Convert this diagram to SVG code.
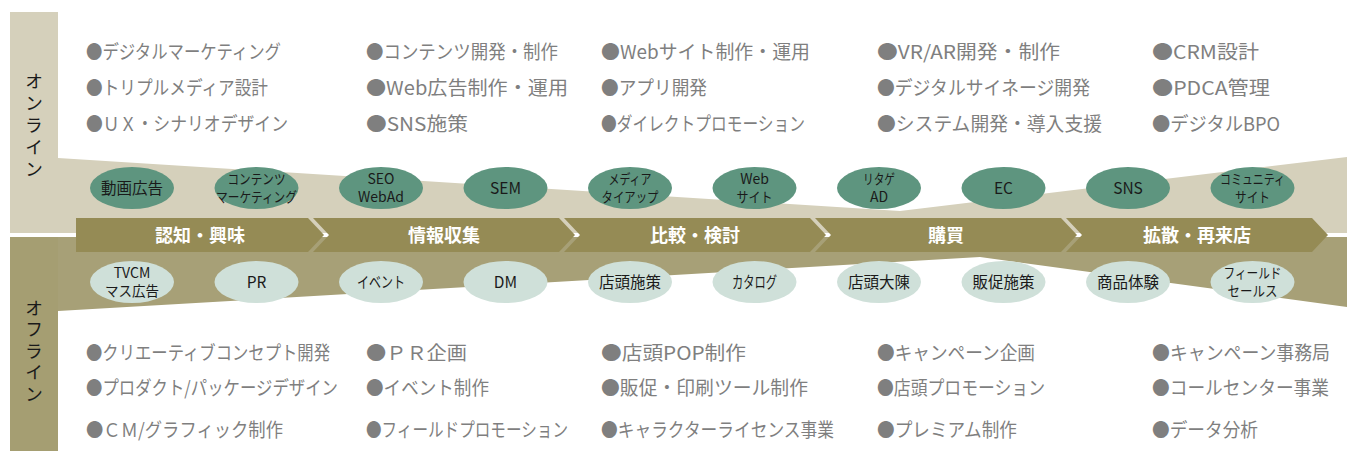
<svg xmlns="http://www.w3.org/2000/svg" width="1347" height="451" viewBox="0 0 1347 451">
<style>
.bl{font-family:"Noto Sans CJK JP","Noto Sans",sans-serif;font-size:19px;fill:#7f7f7f}
.vt{font-family:"Noto Sans CJK JP",sans-serif;font-size:18px;fill:#1a1a1a;writing-mode:vertical-rl}
.st{font-family:"Noto Sans CJK JP",sans-serif;font-size:18px;font-weight:bold;fill:#ffffff;text-anchor:middle}
.et{font-family:"Noto Sans CJK JP","Noto Sans",sans-serif;font-size:15.5px;fill:#1a1a1a;text-anchor:middle}
.e2{font-family:"Noto Sans CJK JP","Noto Sans",sans-serif;font-size:14px;fill:#1a1a1a;text-anchor:middle}
.on{fill:#5e957f}
.off{fill:#cfe0d9}
.seg{fill:#958b55}
</style>
<rect width="1347" height="451" fill="#ffffff"/>
<g id="background">
<rect x="10" y="12" width="48" height="221" fill="#d5d0bb"/>
<rect x="10" y="237" width="48" height="214" fill="#a59e72"/>
<polygon points="58,158 900,211 1347,157 1347,233 58,233" fill="#d5d0bb"/>
<polygon points="58,237 1347,237 1347,307 980,257 58,311" fill="#a7a077"/>
<rect x="0" y="233" width="1347" height="4" fill="#ffffff"/>
</g>
<g id="label-online"><text class="vt" x="34" y="72" letter-spacing="4">オンライン</text></g>
<g id="label-offline"><text class="vt" x="34" y="299" letter-spacing="3.5">オフライン</text></g>
<g id="connectors"></g>
<g id="stage1"><polygon class="seg" points="76,218 308,218 324,235 308,252 76,252"/><text class="st" x="200" y="241.5">認知・興味</text></g>
<g id="stage2"><polygon class="seg" points="313,218 559,218 575,235 559,252 313,252 329,235"/><text class="st" x="444" y="241.5">情報収集</text></g>
<g id="stage3"><polygon class="seg" points="564,218 810,218 826,235 810,252 564,252 580,235"/><text class="st" x="695" y="241.5">比較・検討</text></g>
<g id="stage4"><polygon class="seg" points="815,218 1061,218 1077,235 1061,252 815,252 831,235"/><text class="st" x="946" y="241.5">購買</text></g>
<g id="stage5"><polygon class="seg" points="1066,218 1312,218 1328,235 1312,252 1066,252 1082,235"/><text class="st" x="1197" y="241.5">拡散・再来店</text></g>
<g id="on1"><ellipse class="on" cx="132" cy="188" rx="42" ry="21"/><text class="et" x="132" y="193.5">動画広告</text></g>
<g id="on2"><ellipse class="on" cx="256.5" cy="188" rx="42" ry="21"/><text class="e2" x="256.5" y="184.3" textLength="58" lengthAdjust="spacingAndGlyphs">コンテンツ</text><text class="e2" x="256.5" y="202.3" textLength="81" lengthAdjust="spacingAndGlyphs">マーケティング</text></g>
<g id="on3"><ellipse class="on" cx="381" cy="188" rx="42" ry="21"/><text class="e2" x="381" y="184.3" font-size="15">SEO</text><text class="e2" x="381" y="202.3" font-size="15">WebAd</text></g>
<g id="on4"><ellipse class="on" cx="505.5" cy="188" rx="42" ry="21"/><text class="et" x="505.5" y="193.5">SEM</text></g>
<g id="on5"><ellipse class="on" cx="630" cy="188" rx="42" ry="21"/><text class="e2" x="630" y="184.3" textLength="43" lengthAdjust="spacingAndGlyphs">メディア</text><text class="e2" x="630" y="202.3" textLength="57" lengthAdjust="spacingAndGlyphs">タイアップ</text></g>
<g id="on6"><ellipse class="on" cx="754.5" cy="188" rx="42" ry="21"/><text class="e2" x="754.5" y="184.3" font-size="15">Web</text><text class="e2" x="754.5" y="202.3" textLength="36" lengthAdjust="spacingAndGlyphs">サイト</text></g>
<g id="on7"><ellipse class="on" cx="879" cy="188" rx="42" ry="21"/><text class="e2" x="879" y="184.3" textLength="32" lengthAdjust="spacingAndGlyphs">リタゲ</text><text class="e2" x="879" y="202.3" font-size="15">AD</text></g>
<g id="on8"><ellipse class="on" cx="1003.5" cy="188" rx="42" ry="21"/><text class="et" x="1003.5" y="193.5">EC</text></g>
<g id="on9"><ellipse class="on" cx="1128" cy="188" rx="42" ry="21"/><text class="et" x="1128" y="193.5">SNS</text></g>
<g id="on10"><ellipse class="on" cx="1252.5" cy="188" rx="42" ry="21"/><text class="e2" x="1252.5" y="184.3" textLength="65" lengthAdjust="spacingAndGlyphs">コミュニティ</text><text class="e2" x="1252.5" y="202.3" textLength="35" lengthAdjust="spacingAndGlyphs">サイト</text></g>
<g id="off1"><ellipse class="off" cx="132" cy="282" rx="42" ry="21"/><text class="e2" x="132" y="278.3" font-size="15">TVCM</text><text class="e2" x="132" y="296.3" textLength="54" lengthAdjust="spacingAndGlyphs">マス広告</text></g>
<g id="off2"><ellipse class="off" cx="256.5" cy="282" rx="42" ry="21"/><text class="et" x="256.5" y="287.5">PR</text></g>
<g id="off3"><ellipse class="off" cx="381" cy="282" rx="42" ry="21"/><text class="et" x="381" y="287.5" textLength="48" lengthAdjust="spacingAndGlyphs">イベント</text></g>
<g id="off4"><ellipse class="off" cx="505.5" cy="282" rx="42" ry="21"/><text class="et" x="505.5" y="287.5">DM</text></g>
<g id="off5"><ellipse class="off" cx="630" cy="282" rx="42" ry="21"/><text class="et" x="630" y="287.5">店頭施策</text></g>
<g id="off6"><ellipse class="off" cx="754.5" cy="282" rx="42" ry="21"/><text class="et" x="754.5" y="287.5" textLength="45" lengthAdjust="spacingAndGlyphs">カタログ</text></g>
<g id="off7"><ellipse class="off" cx="879" cy="282" rx="42" ry="21"/><text class="et" x="879" y="287.5">店頭大陳</text></g>
<g id="off8"><ellipse class="off" cx="1003.5" cy="282" rx="42" ry="21"/><text class="et" x="1003.5" y="287.5">販促施策</text></g>
<g id="off9"><ellipse class="off" cx="1128" cy="282" rx="42" ry="21"/><text class="et" x="1128" y="287.5">商品体験</text></g>
<g id="off10"><ellipse class="off" cx="1252.5" cy="282" rx="42" ry="21"/><text class="e2" x="1252.5" y="278.3" textLength="58" lengthAdjust="spacingAndGlyphs">フィールド</text><text class="e2" x="1252.5" y="296.3" textLength="50" lengthAdjust="spacingAndGlyphs">セールス</text></g>
<g id="online-services">
<text class="bl" x="86" y="59" textLength="195" lengthAdjust="spacingAndGlyphs">●デジタルマーケティング</text>
<text class="bl" x="86" y="95" textLength="182" lengthAdjust="spacingAndGlyphs">●トリプルメディア設計</text>
<text class="bl" x="86" y="131" textLength="202" lengthAdjust="spacingAndGlyphs">●ＵＸ・シナリオデザイン</text>
<text class="bl" x="366" y="59" textLength="192" lengthAdjust="spacingAndGlyphs">●コンテンツ開発・制作</text>
<text class="bl" x="366" y="95" textLength="202" lengthAdjust="spacingAndGlyphs">●Web広告制作・運用</text>
<text class="bl" x="366" y="131" textLength="102" lengthAdjust="spacingAndGlyphs">●SNS施策</text>
<text class="bl" x="601" y="59" textLength="209" lengthAdjust="spacingAndGlyphs">●Webサイト制作・運用</text>
<text class="bl" x="601" y="95" textLength="106" lengthAdjust="spacingAndGlyphs">●アプリ開発</text>
<text class="bl" x="601" y="131" textLength="204" lengthAdjust="spacingAndGlyphs">●ダイレクトプロモーション</text>
<text class="bl" x="877" y="59" textLength="183" lengthAdjust="spacingAndGlyphs">●VR/AR開発・制作</text>
<text class="bl" x="877" y="95" textLength="213" lengthAdjust="spacingAndGlyphs">●デジタルサイネージ開発</text>
<text class="bl" x="877" y="131" textLength="225" lengthAdjust="spacingAndGlyphs">●システム開発・導入支援</text>
<text class="bl" x="1152" y="59" textLength="107" lengthAdjust="spacingAndGlyphs">●CRM設計</text>
<text class="bl" x="1152" y="95" textLength="118" lengthAdjust="spacingAndGlyphs">●PDCA管理</text>
<text class="bl" x="1152" y="131" textLength="128" lengthAdjust="spacingAndGlyphs">●デジタルBPO</text>
</g>
<g id="offline-services">
<text class="bl" x="86" y="360" textLength="244" lengthAdjust="spacingAndGlyphs">●クリエーティブコンセプト開発</text>
<text class="bl" x="86" y="395" textLength="252" lengthAdjust="spacingAndGlyphs">●プロダクト/パッケージデザイン</text>
<text class="bl" x="86" y="437" textLength="197" lengthAdjust="spacingAndGlyphs">●ＣＭ/グラフィック制作</text>
<text class="bl" x="366" y="360" textLength="101" lengthAdjust="spacingAndGlyphs">●ＰＲ企画</text>
<text class="bl" x="366" y="395" textLength="123" lengthAdjust="spacingAndGlyphs">●イベント制作</text>
<text class="bl" x="366" y="437" textLength="202" lengthAdjust="spacingAndGlyphs">●フィールドプロモーション</text>
<text class="bl" x="601" y="360" textLength="145" lengthAdjust="spacingAndGlyphs">●店頭POP制作</text>
<text class="bl" x="601" y="395" textLength="207" lengthAdjust="spacingAndGlyphs">●販促・印刷ツール制作</text>
<text class="bl" x="601" y="437" textLength="233" lengthAdjust="spacingAndGlyphs">●キャラクターライセンス事業</text>
<text class="bl" x="877" y="360" textLength="158" lengthAdjust="spacingAndGlyphs">●キャンペーン企画</text>
<text class="bl" x="877" y="395" textLength="168" lengthAdjust="spacingAndGlyphs">●店頭プロモーション</text>
<text class="bl" x="877" y="437" textLength="140" lengthAdjust="spacingAndGlyphs">●プレミアム制作</text>
<text class="bl" x="1152" y="360" textLength="178" lengthAdjust="spacingAndGlyphs">●キャンペーン事務局</text>
<text class="bl" x="1152" y="395" textLength="177" lengthAdjust="spacingAndGlyphs">●コールセンター事業</text>
<text class="bl" x="1152" y="437" textLength="106" lengthAdjust="spacingAndGlyphs">●データ分析</text>
</g>
</svg>
